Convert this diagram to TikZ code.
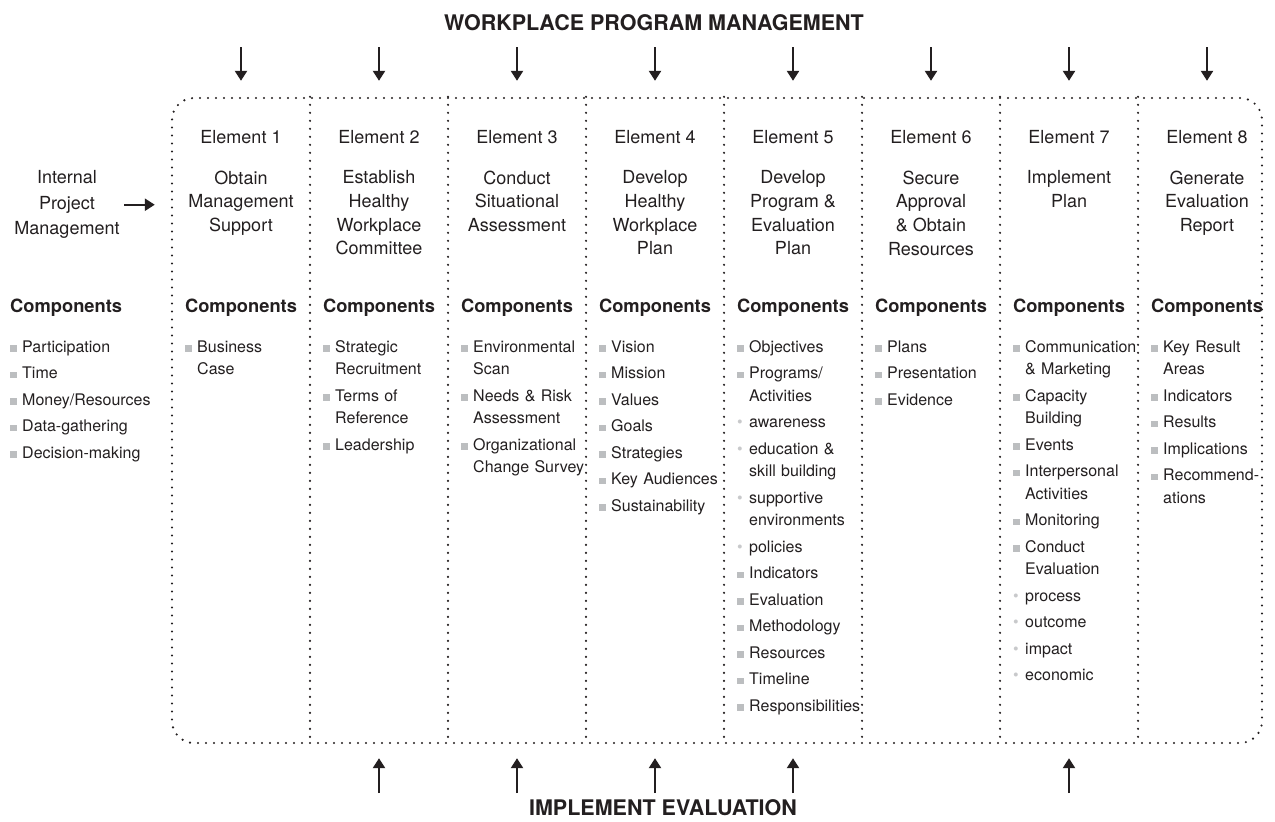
\documentclass[tikz,border=0pt]{standalone}
\usepackage{fontspec}
\setmainfont{TeX Gyre Heros}
\usepackage{xcolor}
\usetikzlibrary{arrows.meta,positioning}

\definecolor{inkgray}{HTML}{231F20}
\definecolor{bulletgray}{HTML}{BCBEC0}
\definecolor{dotgray}{HTML}{C8C9CB}

\newcommand{\sqitem}[1]{\par\noindent\hangindent=12pt\hangafter=1%
  \makebox[12pt][l]{\textcolor{bulletgray}{\rule[0.3pt]{6.5pt}{6.5pt}}}#1\par}
\newcommand{\dotitem}[1]{\par\noindent\hangindent=12pt\hangafter=1%
  \makebox[12pt][l]{\textcolor{dotgray}{\textbullet}}#1\par}

\tikzstyle{dotframe} = [draw=inkgray, line width=2.4pt, line cap=round,
    dash pattern=on 0pt off 8pt]
\tikzstyle{flowarrow} = [draw=inkgray, line width=2.4pt,
    -{Triangle[width=12pt,length=10pt]}]
\tikzstyle{bigtitle} = [font=\bfseries\fontsize{21.5}{26}\selectfont,
    text=inkgray, inner sep=0pt, anchor=base]
\tikzstyle{elemhead} = [font=\fontsize{18}{22}\selectfont, text=inkgray,
    inner sep=0pt, anchor=base]
\tikzstyle{elemtitle} = [font=\fontsize{18}{23.7}\selectfont, text=inkgray,
    inner sep=0pt, anchor=north, align=center]
\tikzstyle{comphead} = [font=\bfseries\fontsize{18.3}{22}\selectfont,
    text=inkgray, inner sep=0pt, anchor=base]
\tikzstyle{complist} = [font=\fontsize{16}{22.5}\selectfont, text=inkgray,
    inner sep=0pt, anchor=north west, text width=130pt, align=left,
    execute at begin node={\setlength{\parskip}{4pt}\hyphenpenalty=10000}]

\begin{document}
\begin{tikzpicture}[x=1pt, y=-1pt]
\useasboundingbox (0,0) rectangle (1275,822);

% outer frame and columns
\node[dotframe, rounded corners=22pt, minimum width=1090pt,
    minimum height=645pt, inner sep=0pt] (frame) at (717,420.5) {};
\foreach \x in {310,448,586,724,862,1000,1138}
    \draw[dotframe] (\x,0 |- frame.north) -- (\x,0 |- frame.south);

% titles
\node[bigtitle] (wpm) at (654,30) {WORKPLACE PROGRAM MANAGEMENT};
\node[bigtitle] (ieval) at (663,815.5) {IMPLEMENT EVALUATION};

\foreach \x [count=\i] in {241,379,517,655,793,931,1069,1207} {
    \coordinate (mgmt\i) at (\x,47);
    \draw[flowarrow, shorten >=16pt] (mgmt\i) -- (mgmt\i |- frame.north);
    \node[elemhead] (head\i) at (\x,143.5) {Element \i};
    \node[comphead] (comp\i) at (\x,312.5) {Components};
}
\foreach \x [count=\i] in {379,517,655,793,1069} {
    \coordinate (eval\i) at (\x,793);
    \draw[flowarrow, shorten >=14pt] (eval\i) -- (eval\i |- frame.south);
}

% left side
\node[elemtitle, font=\fontsize{18}{25.5}\selectfont] (ipm) at (67,170.5)
    {Internal\\Project\\Management};
\draw[flowarrow, shorten >=16pt] ([xshift=4.5pt]ipm.east) -- (ipm.east -| frame.west);
\node[comphead, anchor=base west] (comp0) at (10,312.5) {Components};
\node[complist, text width=160pt] (list0) at (10,325.5) {
    \sqitem{Participation}
    \sqitem{Time}
    \sqitem{Money/Resources}
    \sqitem{Data-gathering}
    \sqitem{Decision-making}};

% element titles
\node[elemtitle] (task1) at (241,170.5) {Obtain\\Management\\Support};
\node[elemtitle] (task2) at (379,170.5) {Establish\\Healthy\\Workplace\\Committee};
\node[elemtitle] (task3) at (517,170.5) {Conduct\\Situational\\Assessment};
\node[elemtitle] (task4) at (655,170.5) {Develop\\Healthy\\Workplace\\Plan};
\node[elemtitle] (task5) at (793,170.5) {Develop\\Program \&\\Evaluation\\Plan};
\node[elemtitle] (task6) at (931,170.5) {Secure\\Approval\\\& Obtain\\Resources};
\node[elemtitle] (task7) at (1069,170.5) {Implement\\Plan};
\node[elemtitle] (task8) at (1207,170.5) {Generate\\Evaluation\\Report};

% component lists
\node[complist] (list1) at (185,325.5) {
    \sqitem{Business\newline Case}};
\node[complist] (list2) at (323,325.5) {
    \sqitem{Strategic\newline Recruitment}
    \sqitem{Terms of\newline Reference}
    \sqitem{Leadership}};
\node[complist] (list3) at (461,325.5) {
    \sqitem{Environmental\newline Scan}
    \sqitem{Needs \& Risk\newline Assessment}
    \sqitem{Organizational\newline Change Survey}};
\node[complist] (list4) at (599,325.5) {
    \sqitem{Vision}
    \sqitem{Mission}
    \sqitem{Values}
    \sqitem{Goals}
    \sqitem{Strategies}
    \sqitem{Key Audiences}
    \sqitem{Sustainability}};
\node[complist] (list5) at (737,325.5) {
    \sqitem{Objectives}
    \sqitem{Programs/\newline Activities}
    \dotitem{awareness}
    \dotitem{education \&\newline skill building}
    \dotitem{supportive\newline environments}
    \dotitem{policies}
    \sqitem{Indicators}
    \sqitem{Evaluation}
    \sqitem{Methodology}
    \sqitem{Resources}
    \sqitem{Timeline}
    \sqitem{Responsibilities}};
\node[complist] (list6) at (875,325.5) {
    \sqitem{Plans}
    \sqitem{Presentation}
    \sqitem{Evidence}};
\node[complist] (list7) at (1013,325.5) {
    \sqitem{Communication\newline \& Marketing}
    \sqitem{Capacity\newline Building}
    \sqitem{Events}
    \sqitem{Interpersonal\newline Activities}
    \sqitem{Monitoring}
    \sqitem{Conduct\newline Evaluation}
    \dotitem{process}
    \dotitem{outcome}
    \dotitem{impact}
    \dotitem{economic}};
\node[complist] (list8) at (1151,325.5) {
    \sqitem{Key Result\newline Areas}
    \sqitem{Indicators}
    \sqitem{Results}
    \sqitem{Implications}
    \sqitem{Recommend-\newline ations}};
\end{tikzpicture}
\end{document}
